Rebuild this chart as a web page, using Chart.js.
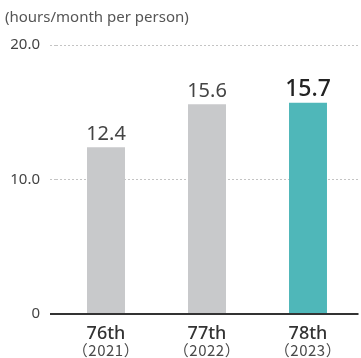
<!DOCTYPE html>
<html>
<head>
<meta charset="utf-8">
<script src="https://cdn.jsdelivr.net/npm/chart.js@4"></script>
<style>
  html, body { margin: 0; padding: 0; background: #fff; }
  #wrap { width: 361px; height: 358px; }
</style>
</head>
<body>
<div id="wrap"><canvas id="chart-hours"></canvas></div>
<script>
(function () {
  var terms = ['76th', '77th', '78th'];
  var years = ['（2021）', '（2022）', '（2023）'];
  var hours = [12.4, 15.6, 15.7];
  var yTicks = [0, 10, 20];

  var barColors = ['#c8c9cb', '#c8c9cb', '#4fb7b9'];
  var SANS = "'Noto Sans', 'Liberation Sans', sans-serif";

  /* value labels above each bar, latest year larger */
  var valueLabels = {
    id: 'valueLabels',
    afterDatasetsDraw: function (chart) {
      var ctx = chart.ctx;
      var meta = chart.getDatasetMeta(0);
      ctx.save();
      ctx.textAlign = 'center';
      ctx.textBaseline = 'alphabetic';
      meta.data.forEach(function (bar, i) {
        var last = i === hours.length - 1;
        ctx.font = (last ? '500 23px ' : '20px ') + SANS;
        ctx.fillStyle = last ? '#222' : '#444';
        ctx.fillText(hours[i].toFixed(1), bar.x, bar.y - 7);
      });
      ctx.restore();
    }
  };

  /* second line under each term: fiscal year in full-width brackets */
  var yearLabels = {
    id: 'yearLabels',
    afterDraw: function (chart) {
      var ctx = chart.ctx;
      var x = chart.scales.x;
      ctx.save();
      ctx.textAlign = 'center';
      ctx.textBaseline = 'alphabetic';
      ctx.font = "15px 'Noto Sans CJK JP', sans-serif";
      ctx.letterSpacing = '0.5px';
      ctx.fillStyle = '#4a4a4a';
      years.forEach(function (y, i) {
        ctx.fillText(y, x.getPixelForValue(i), chart.chartArea.bottom + 42);
      });
      ctx.restore();
    }
  };

  function isZero(c) { return c.tick && c.tick.value === 0; }

  new Chart(document.getElementById('chart-hours'), {
    type: 'bar',
    data: {
      labels: terms,
      datasets: [{
        data: hours,
        backgroundColor: barColors,
        borderWidth: 0,
        barPercentage: 0.376,
        categoryPercentage: 1
      }]
    },
    options: {
      responsive: true,
      maintainAspectRatio: false,
      animation: false,
      layout: { padding: { left: 5, right: 2.5, top: 0, bottom: 0 } },
      plugins: {
        legend: { display: false },
        tooltip: { enabled: false },
        title: {
          display: true,
          text: '(hours/month per person)',
          align: 'start',
          color: '#555',
          font: { family: SANS, size: 15, weight: 'normal' },
          padding: { top: 9, bottom: 18 }
        }
      },
      scales: {
        x: {
          grid: { display: false },
          border: { display: false },
          ticks: {
            color: '#333',
            padding: 1,
            font: { family: SANS, size: 18, weight: '500' }
          },
          afterFit: function (s) { s.height = 44; }
        },
        y: {
          min: 0,
          max: 20,
          afterBuildTicks: function (s) {
            s.ticks = yTicks.map(function (v) { return { value: v }; });
          },
          border: {
            display: false,
            dash: function (c) { return isZero(c) ? [] : [2, 2]; }
          },
          grid: {
            drawTicks: true,
            tickLength: 5.5,
            color: function (c) { return isZero(c) ? '#333' : '#c4c4c4'; },
            tickColor: function (c) { return isZero(c) ? '#333' : '#c4c4c4'; },
            lineWidth: function (c) { return isZero(c) ? 2 : 1; },
            tickWidth: function (c) { return isZero(c) ? 2 : 1; },
            tickBorderDash: function (c) { return isZero(c) ? [] : [2, 2]; }
          },
          ticks: {
            color: '#444',
            padding: 10,
            font: { family: SANS, size: 15 },
            callback: function (v) { return v === 0 ? '0' : v.toFixed(1); }
          },
          afterFit: function (s) { s.width = 50.5; }
        }
      }
    },
    plugins: [valueLabels, yearLabels]
  });
})();
</script>
</body>
</html>
